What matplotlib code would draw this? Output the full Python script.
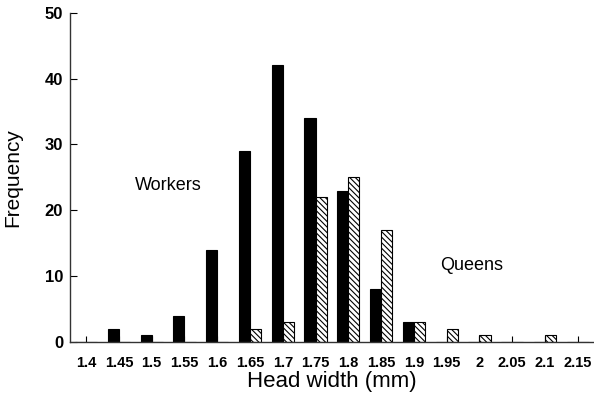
import matplotlib
matplotlib.use("Agg")
import matplotlib.pyplot as plt
import numpy as np

plt.rcParams['font.family'] = ['Liberation Sans', 'DejaVu Sans']
plt.rcParams['hatch.linewidth'] = 0.8

# Head-width classes (mm) and counts per caste
head_width = ["1.4", "1.45", "1.5", "1.55", "1.6", "1.65", "1.7", "1.75",
              "1.8", "1.85", "1.9", "1.95", "2", "2.05", "2.1", "2.15"]
workers = [0, 2, 1, 4, 14, 29, 42, 34, 23, 8, 3, 0, 0, 0, 0, 0]
queens = [0, 0, 0, 0, 0, 2, 3, 22, 25, 17, 3, 2, 1, 0, 1, 0]

fig = plt.figure(figsize=(5.94, 3.99), dpi=100)
ax = fig.add_axes([0.118, 0.143, 0.880, 0.825])

x = np.arange(len(head_width))
w = 0.34
ax.bar(x - w / 2, workers, width=w, color='black', edgecolor='black', linewidth=0.8)
ax.bar(x + w / 2, queens, width=w, color='white', edgecolor='black',
       hatch='\\\\\\\\\\\\', linewidth=0.8)

ax.set_xlim(-0.49, 15.46)
ax.set_ylim(0, 50)
ax.set_xticks(x)
ax.set_xticklabels(head_width, fontsize=10.5, fontweight='bold')
ax.set_yticks([0, 10, 20, 30, 40, 50])
ax.set_yticklabels(['0', '10', '20', '30', '40', '50'], fontsize=12, fontweight='bold')
ax.tick_params(axis='x', direction='in', length=4, width=0.8, pad=10)
ax.tick_params(axis='y', direction='in', length=5, width=0.8, pad=5)

for side in ('top', 'right'):
    ax.spines[side].set_visible(False)
for side in ('left', 'bottom'):
    ax.spines[side].set_linewidth(1.0)
    ax.spines[side].set_color('#333333')

ax.set_xlabel('Head width (mm)', fontsize=16, labelpad=1)
ax.set_ylabel('Frequency', fontsize=15, labelpad=8)
ax.yaxis.set_label_coords(-0.092, 0.5)

ax.text(2.5, 23.7, 'Workers', fontsize=13, ha='center', va='center')
ax.text(11.77, 11.55, 'Queens', fontsize=13, ha='center', va='center')

fig.savefig('out.png', dpi=100)
